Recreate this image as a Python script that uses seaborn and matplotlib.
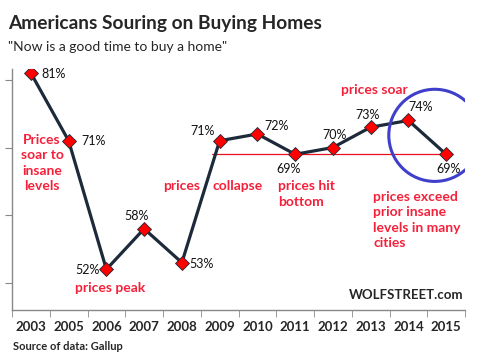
import numpy as np
import matplotlib
matplotlib.use("Agg")
import matplotlib.pyplot as plt
from matplotlib.patches import Ellipse
import seaborn as sns

years = ["2003", "2005", "2006", "2007", "2008", "2009", "2010", "2011", "2012", "2013", "2014", "2015"]
good_time = [81, 71, 52, 58, 53, 71, 72, 69, 70, 73, 74, 69]
# label offsets in pixels (dx, dy) from each point
label_offsets = [(23, -1), (25, 0), (-19, -1), (-8, 13), (20, -1), (-17, 10),
                 (19, 8), (-7, -15), (2, 13), (-3, 12), (12, 13), (2, -15)]

sns.set_style("white")
plt.rcParams["font.family"] = ["Lato", "DejaVu Sans"]

W, H = 486, 364
fig = plt.figure(figsize=(W / 100, H / 100), dpi=100)
ax = fig.add_axes([12 / W, 1 - 310 / H, (465 - 12) / W, (310 - 69) / H])

red = "#F5213A"
navy = "#1C2A3A"

pos = np.arange(len(years))
sns.lineplot(x=pos, y=good_time, color=navy, linewidth=2.3, marker="D",
             markersize=7, markerfacecolor="#FF0000", markeredgecolor=navy,
             markeredgewidth=0.6, ax=ax)

# 69% reference line from 2009 onwards
ax.plot([4.8, 11.1], [good_time[7], good_time[7]], color="#E8101E", linewidth=0.9, zorder=1)

for i, v in enumerate(good_time):
    dx, dy = label_offsets[i]
    ax.annotate(f"{v}%", (i, v), xytext=(dx, dy), textcoords="offset pixels",
                ha="center", va="center", fontsize=9, color="#111111")

ax.add_patch(Ellipse((10.7, 71.8), 92 / 37.75, 92 / 6.76, fill=False,
                     edgecolor="#3F3FCB", linewidth=2.2, zorder=5))

ax.set_xlim(-0.5, 11.5)
ax.set_ylim(46, 81.6)
ax.set_xticks(pos)
ax.set_xticklabels(years, fontweight="bold", fontsize=9.5)
ax.set_xticks(np.arange(-0.5, 12, 1), minor=True)
ax.tick_params(axis="x", which="major", length=0, pad=8)
ax.tick_params(axis="x", which="minor", length=5, color="#888888", direction="out", bottom=True)
ax.set_yticks([50, 60, 70, 80])
ax.set_yticklabels([])
ax.tick_params(axis="y", length=5, color="#888888", direction="out", left=True)
for s in ["top", "right"]:
    ax.spines[s].set_visible(False)
for s in ["left", "bottom"]:
    ax.spines[s].set_color("#888888")
    ax.spines[s].set_linewidth(1)


def ftext(x, y, s, **kw):
    fig.text(x / W, 1 - y / H, s, **kw)


ftext(8, 24, "Americans Souring on Buying Homes", fontsize=13.8, fontweight="bold", va="center")
ftext(8, 47, "\"Now is a good time to buy a home\"", fontsize=10, va="center")

ann = dict(color=red, fontsize=10, fontweight="bold", linespacing=1.35)
ftext(42, 163, "Prices\nsoar to\ninsane\nlevels", ha="center", va="center", **ann)
ftext(75, 288, "prices peak", ha="left", va="center", **ann)
ftext(163, 186, "prices", ha="left", va="center", **ann)
ftext(212, 186, "collapse", ha="left", va="center", **ann)
ftext(278, 194, "prices hit\nbottom", ha="left", va="center", **ann)
ftext(341, 90, "prices soar", ha="left", va="center", **ann)
ftext(373, 220, "prices exceed\nprior insane\nlevels in many\ncities", ha="left", va="center", **ann)

ftext(463, 295, "WOLFSTREET.com", ha="right", va="center", fontsize=9.5, fontweight="bold")
ftext(13, 346, "Source of data: Gallup", ha="left", va="center", fontsize=8, fontweight="bold")

fig.savefig("out.png", dpi=100)
